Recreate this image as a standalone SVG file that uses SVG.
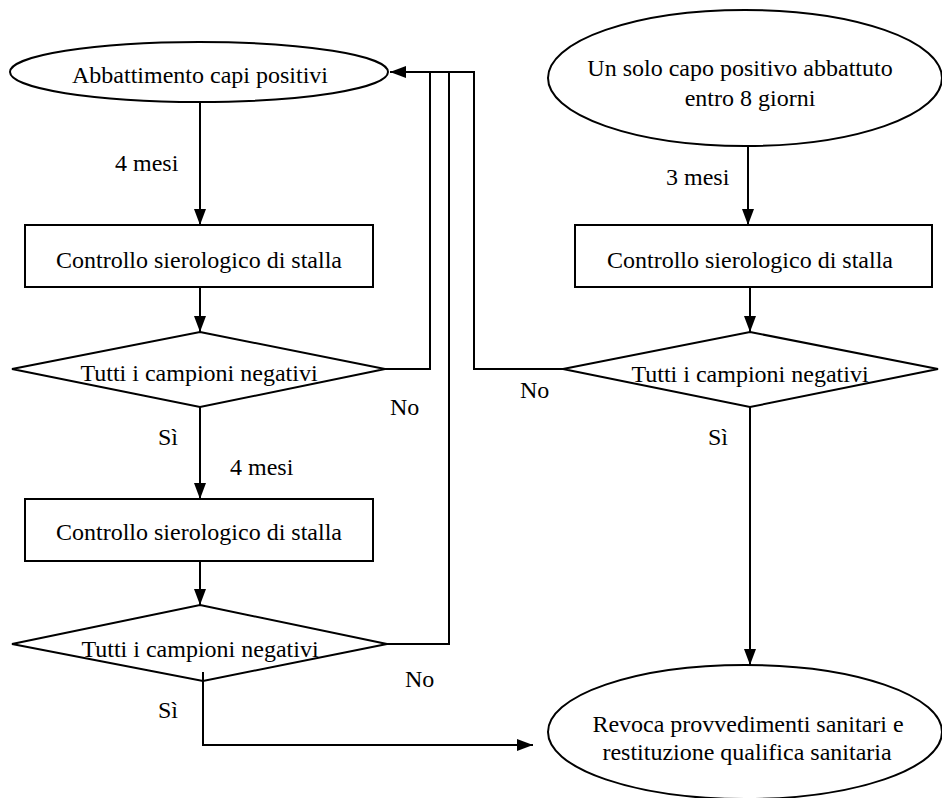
<svg xmlns="http://www.w3.org/2000/svg" width="942" height="798" viewBox="0 0 942 798">
<style>
.shape{fill:#fff;stroke:#000;stroke-width:2}
.conn{fill:none;stroke:#000;stroke-width:2}
text{font-family:"Liberation Serif","Times New Roman",serif;font-size:24px;fill:#000}
.c{text-anchor:middle}
</style>
<defs>
<marker id="arr" viewBox="0 0 16 12" markerWidth="16" markerHeight="12" refX="16" refY="6" orient="auto" markerUnits="userSpaceOnUse">
<path d="M0,0 L16,6 L0,12 z" fill="#000"/>
</marker>
</defs>
<rect width="942" height="798" fill="#fff"/>
<g id="connectors">
<path class="conn" d="M200,102 V225" marker-end="url(#arr)"/>
<path class="conn" d="M200,287 V332" marker-end="url(#arr)"/>
<path class="conn" d="M200,407 V499" marker-end="url(#arr)"/>
<path class="conn" d="M200,561 V605" marker-end="url(#arr)"/>
<path class="conn" d="M385,369 H430 V72"/>
<path class="conn" d="M387,644 H449 V72"/>
<path class="conn" d="M563,369 H474 V72 H390" marker-end="url(#arr)"/>
<path class="conn" d="M203,672 V745 H533" marker-end="url(#arr)"/>
<path class="conn" d="M748,147 V225" marker-end="url(#arr)"/>
<path class="conn" d="M750,287 V332" marker-end="url(#arr)"/>
<path class="conn" d="M750,407 V665" marker-end="url(#arr)"/>
</g>
<g id="labels">
<text x="115" y="171">4 mesi</text>
<text x="666" y="185">3 mesi</text>
<text x="158" y="445">Sì</text>
<text x="230" y="475">4 mesi</text>
<text x="390" y="415">No</text>
<text x="520" y="398">No</text>
<text x="708" y="445">Sì</text>
<text x="405" y="687">No</text>
<text x="158" y="718">Sì</text>
</g>
<g id="start1">
<ellipse class="shape" cx="199" cy="72" rx="189" ry="30"/>
<text class="c" x="200" y="83">Abbattimento capi positivi</text>
</g>
<g id="start2">
<ellipse class="shape" cx="745" cy="78" rx="197" ry="68"/>
<text class="c" x="740" y="76">Un solo capo positivo abbattuto</text>
<text class="c" x="750" y="106">entro 8 giorni</text>
</g>
<g id="check1">
<rect class="shape" x="25" y="225" width="348" height="62"/>
<text class="c" x="199" y="268">Controllo sierologico di stalla</text>
</g>
<g id="check3">
<rect class="shape" x="575" y="225" width="357" height="62"/>
<text class="c" x="750" y="268">Controllo sierologico di stalla</text>
</g>
<g id="decision1">
<polygon class="shape" points="200,332 385,369 200,407 12,369"/>
<text class="c" x="199" y="381">Tutti i campioni negativi</text>
</g>
<g id="decision3">
<polygon class="shape" points="750,332 938,369 750,407 563,369"/>
<text class="c" x="750" y="382">Tutti i campioni negativi</text>
</g>
<g id="check2">
<rect class="shape" x="25" y="499" width="348" height="62"/>
<text class="c" x="199" y="540">Controllo sierologico di stalla</text>
</g>
<g id="decision2">
<polygon class="shape" points="200,605 387,644 203,681 12,644"/>
<text class="c" x="200" y="657">Tutti i campioni negativi</text>
</g>
<path class="conn" d="M203,672 V681"/>
<g id="end">
<ellipse class="shape" cx="745" cy="732" rx="197" ry="67"/>
<text class="c" x="748" y="732">Revoca provvedimenti sanitari e</text>
<text class="c" x="747" y="760">restituzione qualifica sanitaria</text>
</g>
</svg>
